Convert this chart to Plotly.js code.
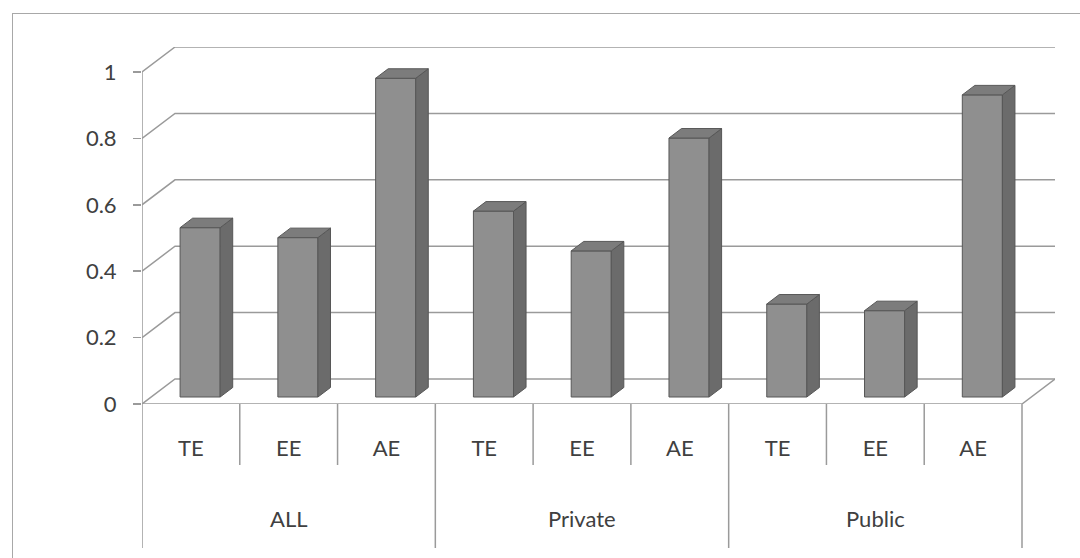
<!DOCTYPE html>
<html>
<head>
<meta charset="utf-8">
<script src="https://cdn.plot.ly/plotly-3.0.1.min.js"></script>
<style>
  html, body { margin: 0; padding: 0; background: #ffffff; }
  #wrap { position: relative; width: 1080px; height: 558px; overflow: hidden; }
  #chart { position: absolute; left: 0; top: 0; width: 1080px; height: 558px; }
  #frame { position: absolute; left: 12px; top: 13px; width: 1100px; height: 600px;
           border: 1.5px solid #a8a8a8; pointer-events: none; }
</style>
</head>
<body>
<div id="wrap">
  <div id="chart"></div>
  <div id="frame"></div>
</div>
<script>
// ---- data ----
const groups = ['ALL', 'Private', 'Public'];
const measures = ['TE', 'EE', 'AE'];
const valuesALL = [0.51, 0.48, 0.96];
const valuesPrivate = [0.56, 0.44, 0.78];
const valuesPublic = [0.28, 0.26, 0.91];
const yTicks = [0, 0.2, 0.4, 0.6, 0.8, 1];
const yTickText = ['0', '0.2', '0.4', '0.6', '0.8', '1'];

// ---- build categories ----
const seriesByGroup = [valuesALL, valuesPrivate, valuesPublic];
const idx = [], lvlMeasure = [], vals = [];
seriesByGroup.forEach((arr, gi) => {
  arr.forEach((v, mi) => { idx.push(idx.length); lvlMeasure.push(measures[mi]); vals.push(v); });
});
const n = vals.length;

// ---- 3D projection parameters (in axis units) ----
const DX = 0.3375;      // depth offset along x (category units)
const DY = 0.0753;      // depth offset along y (value units)
const F0 = 0.28;        // depth of bar front face
const BD = 0.38;        // bar depth fraction
const W = 0.41;         // bar width
const xMax = n - 0.5 + DX;
const yMax = 1 + DY;

const frontCol = '#8f8f8f', sideCol = '#6b6b6b', topCol = '#7c7c7c', edgeCol = '#575757';
const gridCol = '#9a9a9a';
const plotH = 357; // plot area height in px (for label-table placement)

const traces = [];
// front faces
traces.push({
  type: 'bar', x: idx, y: vals,
  base: F0 * DY, width: W, offset: -W / 2 + F0 * DX,
  marker: { color: frontCol, line: { color: edgeCol, width: 1 } },
  hoverinfo: 'y', showlegend: false
});
// side and top faces
for (let i = 0; i < n; i++) {
  const xl = idx[i] - W / 2 + F0 * DX, xr = xl + W;
  const y0 = F0 * DY, yt = y0 + vals[i];
  const ddx = BD * DX, ddy = BD * DY;
  traces.push({
    type: 'scatter', mode: 'lines',
    x: [xr, xr + ddx, xr + ddx, xr, xr], y: [y0, y0 + ddy, yt + ddy, yt, y0],
    fill: 'toself', fillcolor: sideCol, line: { color: edgeCol, width: 1 },
    hoverinfo: 'skip', showlegend: false
  });
  traces.push({
    type: 'scatter', mode: 'lines',
    x: [xl, xr, xr + ddx, xl + ddx, xl], y: [yt, yt, yt + ddy, yt + ddy, yt],
    fill: 'toself', fillcolor: topCol, line: { color: edgeCol, width: 1 },
    hoverinfo: 'skip', showlegend: false
  });
}

// gridlines on back & left walls, floor, front y axis line
const shapes = [];
yTicks.forEach(v => {
  shapes.push({
    type: 'path', xref: 'x', yref: 'y', layer: 'below',
    path: `M -0.5,${v} L ${-0.5 + DX},${v + DY} L ${n - 0.5 + DX},${v + DY}`,
    line: { color: gridCol, width: 1.5 }
  });
});
shapes.push({
  type: 'path', xref: 'x', yref: 'y', layer: 'below',
  path: `M -0.5,1 L -0.5,0 L ${n - 0.5},0 L ${n - 0.5 + DX},${DY}`,
  line: { color: gridCol, width: 1.5 }
});
// category table lines
for (let b = 0; b <= n; b++) {
  const isGroupEdge = (b % measures.length === 0);
  shapes.push({
    type: 'line', xref: 'x', yref: 'paper', layer: 'below',
    x0: b - 0.5, x1: b - 0.5, y0: 0, y1: isGroupEdge ? -144 / plotH : -61 / plotH,
    line: { color: gridCol, width: 1.5 }
  });
}

const labelFont = { family: 'Lato, "Open Sans", sans-serif', size: 22, color: '#404040' };

const annotations = groups.map((g, gi) => ({
  xref: 'x', yref: 'paper', x: gi * measures.length + (measures.length - 1) / 2,
  y: -114 / plotH, text: g, showarrow: false, font: labelFont,
  xanchor: 'center', yanchor: 'middle'
}));

const layout = {
  width: 1080, height: 558,
  margin: { l: 142, r: 25, t: 47, b: 154, pad: 0 },
  paper_bgcolor: '#ffffff', plot_bgcolor: 'rgba(0,0,0,0)',
  showlegend: false, bargap: 0,
  xaxis: {
    type: 'linear', range: [-0.5, xMax],
    tickvals: idx, ticktext: lvlMeasure,
    showline: false, showgrid: false, zeroline: false,
    ticks: '', ticklabelstandoff: 29,
    tickfont: labelFont
  },
  yaxis: {
    range: [0, yMax], tickvals: yTicks, ticktext: yTickText,
    showline: false, showgrid: false, zeroline: false,
    ticks: 'outside', ticklen: 8, tickcolor: gridCol, tickwidth: 1.5,
    ticklabelstandoff: 12,
    tickfont: labelFont
  },
  shapes: shapes,
  annotations: annotations
};

Plotly.newPlot('chart', traces, layout, { displayModeBar: false, staticPlot: true });
</script>
</body>
</html>
